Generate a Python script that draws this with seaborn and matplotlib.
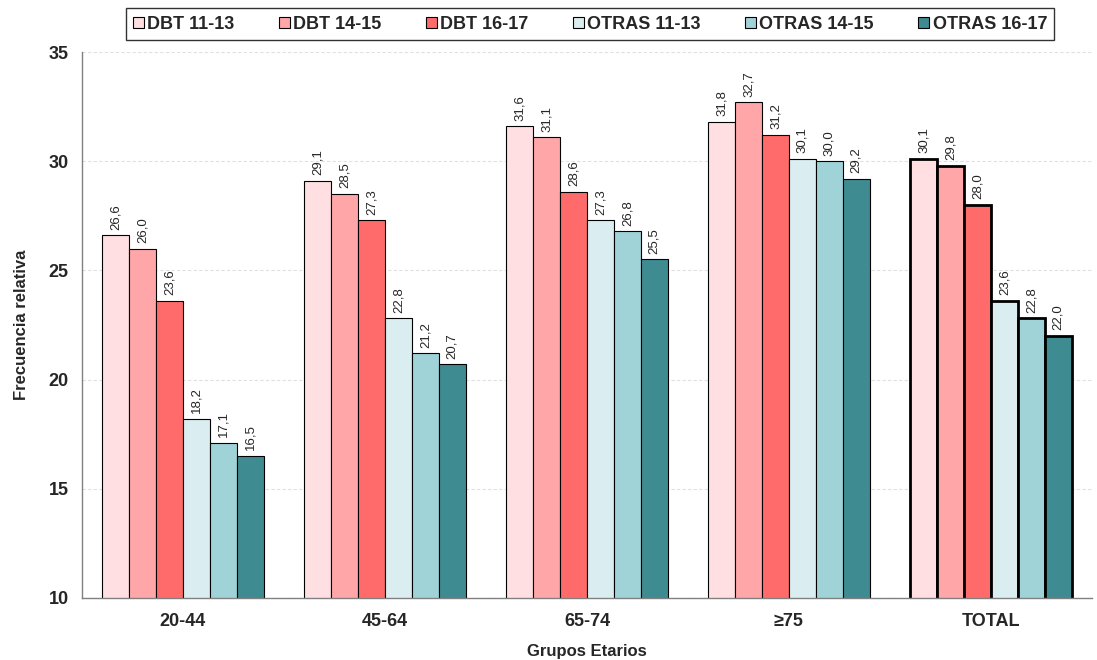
import pandas as pd
import matplotlib.pyplot as plt
import seaborn as sns

# Datos
grupos = ["20-44", "45-64", "65-74", "≥75", "TOTAL"]
series = ["DBT 11-13", "DBT 14-15", "DBT 16-17", "OTRAS 11-13", "OTRAS 14-15", "OTRAS 16-17"]
dbt_11_13 = [26.6, 29.1, 31.6, 31.8, 30.1]
dbt_14_15 = [26.0, 28.5, 31.1, 32.7, 29.8]
dbt_16_17 = [23.6, 27.3, 28.6, 31.2, 28.0]
otras_11_13 = [18.2, 22.8, 27.3, 30.1, 23.6]
otras_14_15 = [17.1, 21.2, 26.8, 30.0, 22.8]
otras_16_17 = [16.5, 20.7, 25.5, 29.2, 22.0]
colores = ["#FFDFE1", "#FFA6A8", "#FF6B6B", "#DAEDF0", "#A0D3D8", "#3E8B92"]

valores = [dbt_11_13, dbt_14_15, dbt_16_17, otras_11_13, otras_14_15, otras_16_17]
df = pd.DataFrame([
    {"grupo": g, "serie": s, "valor": v}
    for s, vals in zip(series, valores)
    for g, v in zip(grupos, vals)
])

sns.set_style("white")
plt.rcParams["font.family"] = ["Liberation Sans", "DejaVu Sans"]

fig = plt.figure(figsize=(10.97, 6.60), dpi=100)
ax = fig.add_axes([0.0747, 0.094, 0.9207, 0.8272])

sns.barplot(data=df, x="grupo", y="valor", hue="serie", order=grupos,
            hue_order=series, palette=colores, saturation=1, width=0.8,
            edgecolor="black", linewidth=0.8, ax=ax, legend=True)

# Borde grueso para TOTAL
for cont in ax.containers:
    cont.patches[-1].set_linewidth(2.0)
    ax.bar_label(cont, labels=[f"{v:.1f}".replace(".", ",") for v in cont.datavalues],
                 rotation=90, padding=4, fontsize=9.5)

ax.set_ylim(10, 35)
ax.set_xlim(-0.5, 4.5)
ax.set_yticks([10, 15, 20, 25, 30, 35])
ax.yaxis.grid(True, color="#E0E0E0", linestyle=(0, (3, 2)), linewidth=0.8)
ax.set_axisbelow(True)

for side in ["top", "right"]:
    ax.spines[side].set_visible(False)
for side in ["left", "bottom"]:
    ax.spines[side].set_color("#808080")
    ax.spines[side].set_linewidth(1.0)

ax.set_xticks([0.5, 1.5, 2.5, 3.5], minor=True)
ax.tick_params(axis="x", which="major", length=0, pad=11, labelsize=13)
ax.tick_params(axis="x", which="minor", length=6, color="#808080", direction="out")
ax.tick_params(axis="y", length=6, color="#808080", direction="out", labelsize=13)
for lbl in ax.get_xticklabels() + ax.get_yticklabels():
    lbl.set_fontweight("bold")

ax.set_xlabel("Grupos Etarios", fontsize=12, fontweight="bold", labelpad=10)
ax.set_ylabel("Frecuencia relativa", fontsize=12, fontweight="bold", labelpad=14)

leg = ax.legend(loc="center", bbox_to_anchor=(0.503, 1.051), ncol=6,
                frameon=True, fancybox=False, edgecolor="black",
                prop={"weight": "bold", "size": 13}, handlelength=0.6,
                handleheight=0.6, handletextpad=0.2, columnspacing=2.45,
                borderpad=0.4, borderaxespad=0)
leg.get_frame().set_linewidth(1.0)

fig.savefig("out.png", dpi=100)
